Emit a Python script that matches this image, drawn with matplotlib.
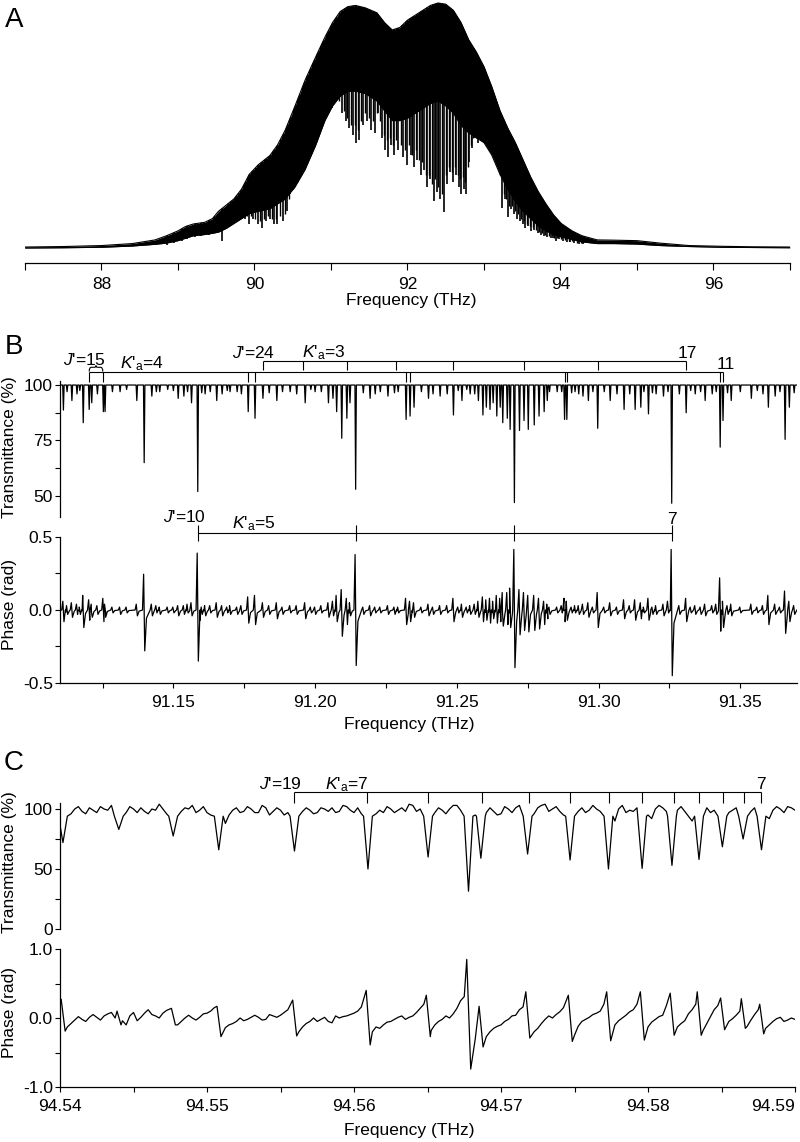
import numpy as np
import matplotlib
matplotlib.use('Agg')
import matplotlib.pyplot as plt
from matplotlib.patches import Polygon, PathPatch
from matplotlib.path import Path
from matplotlib.ticker import FixedLocator, FixedFormatter

plt.rcParams['font.family'] = ['Liberation Sans', 'DejaVu Sans']
plt.rcParams['mathtext.fontset'] = 'custom'
plt.rcParams['mathtext.rm'] = 'Liberation Sans'
plt.rcParams['mathtext.it'] = 'Liberation Sans:italic'
plt.rcParams['axes.unicode_minus'] = False

#------------------------------------------------------------------------------
#  data
#------------------------------------------------------------------------------

# panel A : envelope of the comb spectrum (upper edge / bottom of the solid part)
a_freq = [87.0, 87.5, 88.0, 88.4, 88.7, 88.85, 89.0, 89.1, 89.2, 89.35,
          89.45, 89.53, 89.63, 89.73, 89.83, 89.93, 90.05, 90.2, 90.3, 90.4,
          90.53, 90.66, 90.8, 90.92, 91.02, 91.12, 91.22, 91.32, 91.45, 91.6,
          91.7, 91.8, 91.9, 92.0, 92.1, 92.2, 92.3, 92.4, 92.5, 92.6,
          92.7, 92.8, 92.9, 93.0, 93.1, 93.21, 93.31, 93.41, 93.51, 93.61,
          93.71, 93.81, 93.91, 94.01, 94.15, 94.28, 94.48, 94.7, 95.0, 95.3,
          95.68, 96.1, 96.5, 97.0]
a_upper = [0.004, 0.006, 0.010, 0.018, 0.033, 0.050, 0.070, 0.088, 0.098, 0.105,
           0.120, 0.150, 0.175, 0.200, 0.240, 0.300, 0.340, 0.377, 0.420, 0.480,
           0.580, 0.684, 0.780, 0.860, 0.920, 0.965, 0.985, 0.990, 0.980, 0.960,
           0.920, 0.890, 0.900, 0.930, 0.950, 0.970, 0.990, 1.000, 0.995, 0.970,
           0.920, 0.850, 0.800, 0.740, 0.660, 0.560, 0.490, 0.430, 0.360, 0.290,
           0.230, 0.180, 0.135, 0.100, 0.070, 0.050, 0.033, 0.032, 0.030, 0.020,
           0.010, 0.007, 0.005, 0.004]
a_lower = [0.000, 0.001, 0.003, 0.008, 0.015, 0.020, 0.030, 0.040, 0.050, 0.055,
           0.060, 0.065, 0.080, 0.100, 0.120, 0.140, 0.150, 0.160, 0.180, 0.200,
           0.250, 0.320, 0.420, 0.520, 0.580, 0.620, 0.640, 0.640, 0.630, 0.600,
           0.560, 0.520, 0.520, 0.530, 0.550, 0.570, 0.590, 0.600, 0.580, 0.550,
           0.500, 0.470, 0.450, 0.430, 0.380, 0.300, 0.240, 0.190, 0.150, 0.120,
           0.090, 0.070, 0.055, 0.045, 0.035, 0.025, 0.018, 0.018, 0.016, 0.010,
           0.006, 0.003, 0.002, 0.001]
# strong lines reaching below the solid part
a_spike_f = [88.85, 88.95, 89.05, 89.12, 89.22, 89.30, 89.40, 89.47, 89.58, 89.65, 89.70, 89.76,
             89.82, 89.88, 89.93, 89.98, 90.04, 90.10, 90.15, 90.20, 90.25, 90.30, 90.37, 90.42,
             90.47, 90.53, 90.58, 90.65, 90.69, 90.73, 90.78, 90.83, 90.87, 90.90, 90.96, 91.01,
             91.07, 91.14, 91.19, 91.24, 91.29, 91.33, 91.37, 91.42, 91.47, 91.52, 91.57, 91.62,
             91.67, 91.71, 91.75, 91.79, 91.83, 91.88, 91.94, 92.00, 92.04, 92.09, 92.13, 92.17,
             92.22, 92.26, 92.30, 92.34, 92.38, 92.43, 92.48, 92.52, 92.56, 92.60, 92.64, 92.67,
             92.70, 92.74, 92.77, 92.81, 92.84, 92.88, 92.92, 92.96, 93.00, 93.03, 93.07, 93.11,
             93.15, 93.19, 93.24, 93.27, 93.31, 93.35, 93.39, 93.43, 93.47, 93.51, 93.54, 93.58,
             93.62, 93.66, 93.70, 93.74, 93.78, 93.82, 93.87, 93.90, 93.94, 93.98, 94.03, 94.08,
             94.13, 94.18, 94.24, 94.30]
a_spike_v = [0.012, 0.020, 0.030, 0.035, 0.045, 0.050, 0.055, 0.060, 0.030, 0.140, 0.137, 0.150,
             0.130, 0.120, 0.100, 0.120, 0.100, 0.083, 0.110, 0.120, 0.100, 0.100, 0.110, 0.150,
             0.220, 0.250, 0.300, 0.340, 0.380, 0.410, 0.450, 0.500, 0.520, 0.550, 0.600, 0.570,
             0.620, 0.550, 0.520, 0.490, 0.460, 0.430, 0.440, 0.500, 0.520, 0.480, 0.470, 0.550,
             0.450, 0.400, 0.370, 0.420, 0.380, 0.400, 0.370, 0.340, 0.380, 0.330, 0.360, 0.300,
             0.320, 0.250, 0.280, 0.190, 0.230, 0.200, 0.145, 0.260, 0.310, 0.270, 0.300, 0.250,
             0.220, 0.240, 0.220, 0.350, 0.410, 0.450, 0.430, 0.480, 0.470, 0.500, 0.466, 0.490,
             0.440, 0.380, 0.165, 0.200, 0.125, 0.160, 0.140, 0.120, 0.110, 0.100, 0.080, 0.090,
             0.070, 0.075, 0.060, 0.055, 0.050, 0.045, 0.040, 0.040, 0.030, 0.035, 0.030, 0.025,
             0.025, 0.020, 0.018, 0.015]
# weaker lines in between
a_weak_f = [89.675, 89.73, 89.79, 89.85, 89.905, 89.955, 90.01, 90.07, 90.125, 90.175, 90.225, 90.275,
            90.335, 90.395, 90.445, 90.50, 90.555, 90.615, 90.67, 90.71, 90.755, 90.805, 90.85, 90.885,
            90.93, 90.985, 91.04, 91.105, 91.165, 91.215, 91.265, 91.31, 91.35, 91.395, 91.445, 91.495,
            91.545, 91.595, 91.645, 91.69, 91.73, 91.77, 91.81, 91.855, 91.91, 91.97, 92.02, 92.065,
            92.11, 92.15, 92.195, 92.24, 92.28, 92.32, 92.36, 92.405, 92.455, 92.50, 92.54, 92.58,
            92.62, 92.655, 92.685, 92.72, 92.755, 92.79, 92.825, 92.86, 92.90, 92.94, 92.98, 93.015,
            93.05, 93.09, 93.13, 93.17, 93.215, 93.255, 93.29, 93.33, 93.37, 93.41, 93.45, 93.49,
            93.525, 93.56, 93.60, 93.64, 93.68, 93.72, 93.76, 93.80, 93.845, 93.885, 93.92, 93.96,
            94.005, 94.055, 94.105, 94.155, 94.21, 94.27]
a_weak_v = [0.16, 0.15, 0.16, 0.14, 0.13, 0.13, 0.12, 0.11, 0.12, 0.13, 0.12, 0.12,
            0.13, 0.14, 0.20, 0.24, 0.28, 0.32, 0.37, 0.40, 0.44, 0.48, 0.53, 0.56,
            0.60, 0.60, 0.62, 0.60, 0.56, 0.53, 0.50, 0.50, 0.48, 0.52, 0.55, 0.53,
            0.52, 0.55, 0.52, 0.46, 0.44, 0.45, 0.42, 0.44, 0.42, 0.40, 0.42, 0.38,
            0.40, 0.36, 0.35, 0.30, 0.30, 0.26, 0.28, 0.25, 0.22, 0.30, 0.33, 0.31,
            0.33, 0.30, 0.28, 0.29, 0.27, 0.33, 0.42, 0.45, 0.45, 0.47, 0.50, 0.50,
            0.50, 0.50, 0.47, 0.42, 0.30, 0.22, 0.20, 0.17, 0.17, 0.15, 0.14, 0.12,
            0.11, 0.10, 0.09, 0.085, 0.075, 0.065, 0.06, 0.055, 0.05, 0.048, 0.042, 0.04,
            0.038, 0.032, 0.03, 0.027, 0.022, 0.02]
a_ticks = [88, 90, 92, 94, 96]
a_minor = [87, 89, 91, 93, 95, 97]

# panel B : absorption lines (centre THz, transmittance %, phase up / down rad)
b_freq = [91.1112, 91.1125, 91.1142, 91.1160, 91.1170, 91.1182, 91.1203, 91.1212, 91.1232, 91.1253,
          91.1259, 91.1285, 91.1312, 91.1335, 91.1371, 91.1397, 91.1424, 91.1440, 91.1452, 91.1480,
          91.1500, 91.1517, 91.1537, 91.1550, 91.1564, 91.1586, 91.1600, 91.1612, 91.1630, 91.1653,
          91.1672, 91.1690, 91.1700, 91.1725, 91.1740, 91.1764, 91.1788, 91.1816, 91.1838, 91.1865,
          91.1885, 91.1912, 91.1935, 91.1965, 91.1985, 91.2000, 91.2022, 91.2047, 91.2063, 91.2076,
          91.2094, 91.2112, 91.2123, 91.2143, 91.2170, 91.2194, 91.2212, 91.2230, 91.2257, 91.2280,
          91.2293, 91.2321, 91.2335, 91.2349, 91.2375, 91.2400, 91.2416, 91.2441, 91.2466, 91.2488,
          91.2505, 91.2518, 91.2535, 91.2547, 91.2563, 91.2576, 91.2592, 91.2604, 91.2617, 91.2628,
          91.2641, 91.2653, 91.2662, 91.2678, 91.2688, 91.2703, 91.2721, 91.2737, 91.2752, 91.2773,
          91.2790, 91.2808, 91.2819, 91.2827, 91.2854, 91.2870, 91.2880, 91.2888, 91.2905, 91.2917,
          91.2930, 91.2945, 91.2964, 91.2980, 91.2997, 91.3020, 91.3041, 91.3065, 91.3090, 91.3110,
          91.3129, 91.3149, 91.3160, 91.3176, 91.3190, 91.3203, 91.3229, 91.3245, 91.3258, 91.3285,
          91.3309, 91.3325, 91.3341, 91.3360, 91.3376, 91.3401, 91.3415, 91.3429, 91.3439, 91.3455,
          91.3468, 91.3500, 91.3539, 91.3560, 91.3580, 91.3599, 91.3623, 91.3640, 91.3658, 91.3673,
          91.3690]
b_trans = [88.7, 97, 93, 96, 97.5, 83, 89, 92, 96, 88,
           88, 97, 97, 98, 93, 65, 95, 97, 97, 98,
           97.5, 94, 95, 97, 92, 52, 96.5, 96, 97, 93,
           96, 97.5, 97, 97, 96, 88, 85, 94, 96.5, 93,
           97, 97, 96, 92, 98, 97, 97, 92, 94, 88,
           76, 85, 92, 53, 96.5, 94, 96, 97, 95, 96.5,
           97, 84.5, 86, 90, 97, 94, 96, 95, 96, 86.5,
           97.5, 93, 98, 96, 96, 93, 86.5, 90, 89, 92,
           86, 90, 83, 85, 80, 47, 79.5, 84, 80, 82,
           86, 88, 93, 97, 97, 97, 84.5, 84.5, 96.5, 97,
           96, 95, 93, 97, 80.5, 97, 93, 96, 89, 96,
           89, 90, 97, 87, 96.5, 96, 95, 97, 46.7, 96,
           87.5, 97.5, 96, 97, 93, 96, 97, 72, 84, 96.5,
           93, 97, 94, 97.5, 96, 90, 95, 97, 75.5, 90,
           96.5]
b_up = [0.06, 0.03, 0.05, 0.04, 0.02, 0.10, 0.07, 0.04, 0.03, 0.08,
        0.04, 0.02, 0.02, 0.02, 0.04, 0.245, 0.04, 0.03, 0.02, 0.02,
        0.02, 0.03, 0.03, 0.04, 0.05, 0.39, 0.02, 0.03, 0.03, 0.05,
        0.03, 0.02, 0.03, 0.02, 0.03, 0.09, 0.10, 0.05, 0.03, 0.05,
        0.02, 0.03, 0.03, 0.05, 0.02, 0.02, 0.03, 0.05, 0.06, 0.10,
        0.14, 0.08, 0.05, 0.38, 0.02, 0.03, 0.02, 0.02, 0.03, 0.02,
        0.02, 0.08, 0.06, 0.05, 0.02, 0.04, 0.02, 0.03, 0.03, 0.08,
        0.02, 0.04, 0.02, 0.03, 0.04, 0.06, 0.09, 0.07, 0.08, 0.06,
        0.10, 0.08, 0.12, 0.12, 0.15, 0.415, 0.14, 0.12, 0.10, 0.10,
        0.08, 0.06, 0.04, 0.02, 0.02, 0.03, 0.08, 0.06, 0.02, 0.03,
        0.03, 0.04, 0.05, 0.02, 0.12, 0.02, 0.05, 0.02, 0.07, 0.03,
        0.07, 0.05, 0.02, 0.08, 0.02, 0.03, 0.04, 0.06, 0.415, 0.03,
        0.08, 0.02, 0.03, 0.02, 0.04, 0.03, 0.04, 0.22, 0.06, 0.03,
        0.04, 0.02, 0.04, 0.02, 0.03, 0.10, 0.04, 0.02, 0.13, 0.06,
        0.03]
b_dn = [0.08, 0.03, 0.05, 0.03, 0.03, 0.12, 0.07, 0.05, 0.03, 0.08,
        0.05, 0.02, 0.03, 0.02, 0.04, 0.28, 0.04, 0.02, 0.03, 0.02,
        0.02, 0.04, 0.03, 0.02, 0.04, 0.35, 0.03, 0.04, 0.02, 0.05,
        0.04, 0.02, 0.03, 0.03, 0.03, 0.09, 0.10, 0.05, 0.03, 0.06,
        0.03, 0.02, 0.03, 0.06, 0.02, 0.03, 0.02, 0.05, 0.04, 0.08,
        0.18, 0.10, 0.04, 0.38, 0.03, 0.04, 0.02, 0.02, 0.03, 0.03,
        0.02, 0.10, 0.08, 0.05, 0.02, 0.04, 0.03, 0.03, 0.02, 0.08,
        0.02, 0.05, 0.02, 0.03, 0.03, 0.05, 0.08, 0.07, 0.09, 0.06,
        0.09, 0.08, 0.11, 0.10, 0.12, 0.395, 0.17, 0.14, 0.15, 0.14,
        0.13, 0.10, 0.06, 0.03, 0.02, 0.02, 0.08, 0.07, 0.02, 0.02,
        0.03, 0.03, 0.05, 0.02, 0.12, 0.02, 0.04, 0.03, 0.06, 0.02,
        0.07, 0.06, 0.02, 0.07, 0.03, 0.03, 0.04, 0.02, 0.45, 0.03,
        0.08, 0.02, 0.03, 0.03, 0.04, 0.02, 0.03, 0.145, 0.12, 0.03,
        0.04, 0.02, 0.03, 0.02, 0.03, 0.10, 0.03, 0.02, 0.16, 0.08,
        0.03]
b_lim = [91.11, 91.37]
b_base_t = [100, 100]
b_base_p = [0.0, 0.0]
# assignment brackets
b_br_low = [91.1203, 91.1251, 91.1764, 91.1788, 91.2321, 91.2335, 91.2880, 91.2888, 91.3429, 91.3439]
b_br_up = [91.1816, 91.1956, 91.2112, 91.2286, 91.2488, 91.2738, 91.2997, 91.3309]
b_br_ph = [91.1586, 91.2143, 91.2703, 91.3258]
b_xticks = [91.15, 91.20, 91.25, 91.30, 91.35]
b_xlabels = ['91.15', '91.20', '91.25', '91.30', '91.35']
b_xminor = [91.125, 91.175, 91.225, 91.275, 91.325]
bt_yticks = [50, 75, 100]
bt_yminor = [62.5, 87.5]
bp_yticks = [-0.5, 0.0, 0.5]
bp_ylabels = ['-0.5', '0.0', '0.5']
bp_yminor = [-0.25, 0.25]

# panel C : baseline sampled every 0.5 GHz (and half-way between), plus resolved lines
c_lim = [94.54, 94.59]
c_base_t = [91, 90, 100, 98, 101, 97, 100, 103, 95, 97,
            100, 101, 96, 99, 100, 93, 94, 101, 103, 99,
            97, 90, 78, 95, 101, 98, 100, 97, 101, 98,
            99, 97, 94, 98, 99, 97, 100, 101, 98, 102,
            97, 96, 90, 96, 97, 100, 99, 98, 103, 100,
            92, 97, 99, 100, 103, 88, 75, 85, 97, 98,
            96, 100, 101, 99, 95, 101, 104, 100, 98, 88,
            94, 101, 99, 100, 97, 92, 100, 97, 98, 96,
            95, 100, 101, 95, 99, 98, 90, 85, 101, 99,
            94, 97, 101, 90, 98, 96, 94, 99, 100, 102,
            99]
c_mid_t = [80, 96, 102, 96, 99, 102, 99, 97, 90, 102,
           97, 98, 100, 104, 96, 88, 98, 100, 97, 102,
           95, 82, 88, 99, 97, 102, 97, 103, 95, 101,
           95, 100, 91, 101, 96, 101, 98, 97, 103, 99,
           101, 93, 92, 99, 102, 97, 101, 104, 98, 96,
           90, 101, 96, 103, 99, 95, 95, 93, 101, 95,
           102, 97, 103, 98, 96, 103, 98, 102, 95, 85,
           98, 97, 103, 98, 102, 90, 103, 99, 101, 97,
           92, 103, 98, 96, 102, 94, 88, 92, 97, 103,
           96, 99, 97, 94, 101, 99, 92, 102, 97, 101]
c_base_p = [0.16, -0.13, -0.03, -0.02, 0.01, 0.01, 0.03, 0.08, 0.02, -0.10,
            0.08, 0.01, 0.12, 0.03, 0.07, 0.12, -0.10, 0.00, 0.00, 0.01,
            0.07, 0.15, -0.20, -0.10, -0.05, -0.04, 0.01, 0.01, -0.02, 0.03,
            0.04, 0.12, -0.10, -0.13, -0.05, -0.05, 0.01, -0.07, 0.00, 0.03,
            0.07, 0.16, -0.30, -0.13, -0.10, -0.05, 0.01, -0.02, 0.03, 0.14,
            0.00, -0.10, -0.02, 0.00, 0.14, 0.31, -0.51, 0.00, -0.27, -0.15,
            -0.10, -0.02, 0.04, 0.16, -0.25, -0.15, -0.02, 0.00, 0.09, 0.26,
            -0.25, -0.05, 0.01, 0.07, 0.20, -0.22, -0.04, 0.04, 0.12, 0.00,
            -0.13, -0.02, 0.04, 0.00, -0.13, -0.04, 0.12, 0.00, -0.08, 0.12,
            0.00, -0.05, 0.04, 0.00, -0.03, 0.12, -0.15, -0.05, 0.01, -0.03,
            -0.02]
c_mid_p = [0.00, -0.08, 0.02, -0.05, 0.05, -0.03, 0.06, 0.00, -0.04, 0.03,
           -0.04, 0.07, 0.05, 0.00, 0.11, 0.00, -0.05, 0.04, -0.03, 0.06,
           0.10, -0.25, -0.14, -0.08, 0.00, -0.02, 0.04, -0.03, 0.05, 0.01,
           0.08, 0.20, -0.20, -0.08, 0.00, -0.02, -0.05, 0.03, 0.02, 0.05,
           0.10, 0.30, -0.20, -0.15, -0.06, -0.02, 0.03, 0.01, 0.08, 0.20,
           -0.18, -0.05, 0.03, 0.06, 0.25, 0.40, -0.30, -0.35, -0.20, -0.12,
           -0.05, 0.03, 0.12, 0.22, -0.20, -0.08, 0.03, 0.05, 0.15, 0.30,
           -0.12, -0.02, 0.05, 0.10, 0.28, -0.10, 0.00, 0.09, 0.20, -0.25,
           -0.06, 0.02, 0.18, 0.30, -0.08, 0.06, 0.20, -0.18, 0.02, 0.18,
           -0.12, -0.01, 0.10, -0.12, 0.05, 0.18, -0.10, -0.01, -0.05, 0.00]
c_freq = [94.5402, 94.5440, 94.5477, 94.5508, 94.55595, 94.56095, 94.56504, 94.56779, 94.56863,
          94.57181, 94.5747, 94.57731, 94.5796, 94.58163, 94.58347, 94.58506, 94.58647, 94.58772]
c_trans = [72, 83, 77.5, 66, 65, 50, 60, 31.5, 59, 62.5, 57.5, 50, 50.5, 53, 58, 68.5, 75, 66]
c_up = [0.27, 0.10, 0.14, 0.17, 0.26, 0.40, 0.33, 0.85, 0.17, 0.38, 0.33, 0.38, 0.38, 0.36, 0.38, 0.29, 0.28, 0.20]
c_dn = [0.19, 0.10, 0.10, 0.27, 0.26, 0.39, 0.27, 0.74, 0.42, 0.29, 0.34, 0.33, 0.32, 0.25, 0.25, 0.17, 0.15, 0.23]
c_bracket = [94.55595, 94.5609, 94.56504, 94.56874, 94.57192, 94.57472, 94.57733, 94.5796,
             94.58174, 94.58347, 94.5851, 94.5865, 94.58767]
c_xticks = [94.54, 94.55, 94.56, 94.57, 94.58, 94.59]
c_xlabels = ['94.54', '94.55', '94.56', '94.57', '94.58', '94.59']
c_xminor = [94.545, 94.555, 94.565, 94.575, 94.585]
ct_yticks = [0, 50, 100]
ct_yminor = [25, 75]
cp_yticks = [-1.0, 0.0, 1.0]
cp_ylabels = ['-1.0', '0.0', '1.0']
cp_yminor = [-0.5, 0.5]

#------------------------------------------------------------------------------
#  helpers
#------------------------------------------------------------------------------

W, H = 800, 1142
fig = plt.figure(figsize=(W / 100, H / 100), dpi=100)
FS = 12.5
LW = 0.9


def px_axes(x0, x1, ytop, ybot):
    return fig.add_axes([x0 / W, 1 - ybot / H, (x1 - x0) / W, (ybot - ytop) / H])


def build(grid_f, grid_v, cen, offs, vals, gap):
    # merge the sampled baseline with the line-shape vertices of every line
    gf = np.asarray(grid_f, float)
    gv = np.asarray(grid_v, float)
    cen = np.asarray(cen, float)
    near = np.abs(gf[:, None] - cen[None, :]).min(axis=1) <= gap
    ff = (cen[:, None] + np.asarray(offs)[None, :]).ravel()
    vv = np.asarray(vals, float).ravel()
    f = np.r_[gf[~near], ff]
    v = np.r_[gv[~near], vv]
    o = np.argsort(f, kind='stable')
    return f[o], v[o]


def style(ax, left=True, bottom=True, tlen=3.6):
    for s in ['top', 'right']:
        ax.spines[s].set_visible(False)
    ax.spines['left'].set_visible(left)
    ax.spines['bottom'].set_visible(bottom)
    for s in ax.spines.values():
        s.set_linewidth(LW)
    ax.tick_params(which='both', direction='out', length=tlen, width=0.8, labelsize=FS)
    ax.tick_params(axis='x', pad=5)
    ax.tick_params(axis='y', pad=1.5)
    if not left:
        ax.tick_params(axis='y', which='both', left=False, labelleft=False)
    if not bottom:
        ax.tick_params(axis='x', which='both', bottom=False, labelbottom=False)


def ftext(x, y, s, **kw):
    fig.text(x / W, 1 - y / H, s, ha='center', va='center', **kw)


#------------------------------------------------------------------------------
#  panel A
#------------------------------------------------------------------------------

axA = px_axes(25, 790, 0, 263)
axA.set_xlim(87, 97)
axA.set_ylim(-0.0612, 1.0122)
axA.fill_between(a_freq, a_lower, a_upper, color='k', lw=0)
axA.plot(a_freq, a_upper, color='k', lw=0.8)
axA.plot(a_freq, a_lower, color='k', lw=0.8)
under = Polygon(np.column_stack([np.r_[a_freq[0], a_freq, a_freq[-1]],
                                 np.r_[-1.0, a_upper, -1.0]]),
                closed=True, transform=axA.transData)
for sf, sv, slw in [(a_spike_f, a_spike_v, 1.2), (a_weak_f, a_weak_v, 1.0)]:
    spk = axA.vlines(sf, sv, 1.1, color='k', lw=slw)
    spk.set_clip_path(under)
style(axA, left=False, tlen=5)
axA.xaxis.set_major_locator(FixedLocator(a_ticks))
axA.xaxis.set_minor_locator(FixedLocator(a_minor))

#------------------------------------------------------------------------------
#  panel B
#------------------------------------------------------------------------------

nb = len(b_freq)
axBT = px_axes(60, 797, 380.6, 517)
axBT.set_xlim(*b_lim)
axBT.set_ylim(40.5, 102)
w = 0.00025
f, v = build(b_lim, b_base_t, b_freq, [-w, 0, w],
             np.column_stack([np.full(nb, 100.0), b_trans, np.full(nb, 100.0)]), -1)
axBT.plot(f, v, color='k', lw=LW)
style(axBT, bottom=False)
axBT.yaxis.set_major_locator(FixedLocator(bt_yticks))
axBT.yaxis.set_minor_locator(FixedLocator(bt_yminor))

# assignment combs above the transmittance trace
kw = dict(color='k', lw=0.8, clip_on=False)
axBT.hlines(105.7, b_br_low[0], b_br_low[-1], **kw)
axBT.vlines(b_br_low, 101.5, 105.7, **kw)
axBT.vlines(b_br_low[:2], 105.7, 106.1, **kw)
axBT.hlines(110.8, b_br_up[0], b_br_up[-1], **kw)
axBT.vlines(b_br_up, 106.8, 110.8, **kw)
x0, x1 = b_br_low[0], b_br_low[1]
xm = 0.5 * (x0 + x1)
brace = Path([(x0, 106.1), (x0, 108.0), (x0 + 0.0008, 108.0), (xm - 0.0005, 108.0),
              (xm, 108.0), (xm, 108.8), (xm, 108.0), (xm + 0.0005, 108.0),
              (x1 - 0.0008, 108.0), (x1, 108.0), (x1, 106.1)],
             [Path.MOVETO, Path.CURVE3, Path.CURVE3, Path.LINETO, Path.CURVE3, Path.CURVE3,
              Path.CURVE3, Path.CURVE3, Path.LINETO, Path.CURVE3, Path.CURVE3])
axBT.add_patch(PathPatch(brace, fc='none', ec='k', lw=0.8, clip_on=False))
tk = dict(fontsize=FS, va='baseline', clip_on=False)
axBT.text(91.1111, 109.0, r"$J$'=15", ha='left', **tk)
axBT.text(91.1312, 107.7, r"$K$'$_{\rm a}$=4", ha='left', **tk)
axBT.text(91.1706, 112.4, r"$J$'=24", ha='left', **tk)
axBT.text(91.1953, 112.6, r"$K$'$_{\rm a}$=3", ha='left', **tk)
axBT.text(91.3278, 112.0, "17", ha='left', **tk)
axBT.text(91.3417, 107.1, "11", ha='left', **tk)

axBP = px_axes(60, 797, 537, 683)
axBP.set_xlim(*b_lim)
axBP.set_ylim(-0.5, 0.5)
b_dn_arr = np.asarray(b_dn)
f, v = build(b_lim, b_base_p, b_freq, [-0.0006, -0.0002, 0.0002, 0.0008],
             np.column_stack([np.zeros(nb), b_up, -b_dn_arr, -0.2 * b_dn_arr]), -1)
axBP.plot(f, v, color='k', lw=LW)
style(axBP)
axBP.xaxis.set_major_locator(FixedLocator(b_xticks))
axBP.xaxis.set_major_formatter(FixedFormatter(b_xlabels))
axBP.xaxis.set_minor_locator(FixedLocator(b_xminor))
axBP.yaxis.set_major_locator(FixedLocator(bp_yticks))
axBP.yaxis.set_major_formatter(FixedFormatter(bp_ylabels))
axBP.yaxis.set_minor_locator(FixedLocator(bp_yminor))
axBP.hlines(0.527, b_br_ph[0], b_br_ph[-1], **kw)
axBP.vlines(b_br_ph, 0.473, 0.582, **kw)
axBP.text(91.1465, 0.605, r"$J$'=10", ha='left', **tk)
axBP.text(91.1706, 0.562, r"$K$'$_{\rm a}$=5", ha='left', **tk)
axBP.text(b_br_ph[-1], 0.59, "7", ha='center', **tk)

#------------------------------------------------------------------------------
#  panel C
#------------------------------------------------------------------------------

nc = len(c_freq)
c_grid = np.round(np.linspace(c_lim[0], c_lim[1], len(c_base_t)), 5)
c_grid_mid = np.round(c_grid[:-1] + 0.5 * (c_grid[1] - c_grid[0]), 6)
c_all_f = np.r_[c_grid, c_grid_mid]

axCT = px_axes(60, 795, 797, 929)
axCT.set_xlim(*c_lim)
axCT.set_ylim(0, 110)
f, v = build(c_all_f, np.r_[c_base_t, c_mid_t], c_freq, [-0.0003, 0, 0.0003],
             np.column_stack([np.full(nc, 94.0), c_trans, np.full(nc, 94.0)]), 0.00031)
axCT.plot(f, v, color='k', lw=LW)
style(axCT, bottom=False)
axCT.spines['left'].set_bounds(0, 105)
axCT.yaxis.set_major_locator(FixedLocator(ct_yticks))
axCT.yaxis.set_minor_locator(FixedLocator(ct_yminor))
axCT.hlines(113.9, c_bracket[0], c_bracket[-1], **kw)
axCT.vlines(c_bracket, 105, 113.9, **kw)
axCT.text(94.55357, 116.4, r"$J$'=19", ha='left', **tk)
axCT.text(94.55803, 116.4, r"$K$'$_{\rm a}$=7", ha='left', **tk)
axCT.text(c_bracket[-1], 116.4, "7", ha='center', **tk)

axCP = px_axes(60, 795, 949, 1087)
axCP.set_xlim(*c_lim)
axCP.set_ylim(-1, 1)
f, v = build(c_all_f, np.r_[c_base_p, c_mid_p], c_freq, [-0.00012, 0.00015],
             np.column_stack([c_up, -np.asarray(c_dn)]), 0.00021)
axCP.plot(f, v, color='k', lw=LW)
style(axCP)
axCP.xaxis.set_major_locator(FixedLocator(c_xticks))
axCP.xaxis.set_major_formatter(FixedFormatter(c_xlabels))
axCP.xaxis.set_minor_locator(FixedLocator(c_xminor))
axCP.yaxis.set_major_locator(FixedLocator(cp_yticks))
axCP.yaxis.set_major_formatter(FixedFormatter(cp_ylabels))
axCP.yaxis.set_minor_locator(FixedLocator(cp_yminor))
axCP.xaxis.get_major_ticks()[-1].label1.set_horizontalalignment('right')

#------------------------------------------------------------------------------
#  labels
#------------------------------------------------------------------------------

ftext(14, 20, "A", fontsize=20)
ftext(14, 347, "B", fontsize=20)
ftext(14, 763, "C", fontsize=20)
ftext(411, 300, "Frequency (THz)", fontsize=FS)
ftext(409, 725, "Frequency (THz)", fontsize=FS)
ftext(409, 1131, "Frequency (THz)", fontsize=FS)
ftext(10, 447, "Transmittance (%)", fontsize=FS, rotation=90)
ftext(10, 604, "Phase (rad)", fontsize=FS, rotation=90)
ftext(10, 862, "Transmittance (%)", fontsize=FS, rotation=90)
ftext(10, 1013, "Phase (rad)", fontsize=FS, rotation=90)

fig.savefig('out.png', dpi=100)
